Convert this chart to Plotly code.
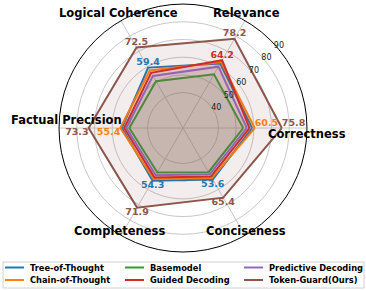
import plotly.graph_objects as go

categories = ["Correctness", "Relevance", "Logical Coherence", "Factual Precision", "Completeness", "Conciseness"]

tree_of_thought = [59.0, 62.0, 59.4, 54.5, 54.3, 53.6]
chain_of_thought = [60.5, 63.0, 57.5, 55.4, 53.2, 52.6]
basemodel = [54.0, 55.0, 50.5, 50.3, 49.0, 48.8]
guided_decoding = [57.5, 64.2, 56.0, 53.2, 52.2, 51.6]
predictive_decoding = [56.0, 60.0, 54.0, 52.0, 50.8, 50.2]
token_guard = [75.8, 78.2, 72.5, 73.3, 71.9, 65.4]

radial_ticks = [40, 50, 60, 70, 80, 90]

series = [
    ("Tree-of-Thought", tree_of_thought, "#1f77b4", "rgba(31,119,180,0.1)"),
    ("Chain-of-Thought", chain_of_thought, "#ff7f0e", "rgba(255,127,14,0.1)"),
    ("Basemodel", basemodel, "#2ca02c", "rgba(44,160,44,0.1)"),
    ("Guided Decoding", guided_decoding, "#d62728", "rgba(214,39,40,0.1)"),
    ("Predictive Decoding", predictive_decoding, "#9467bd", "rgba(148,103,189,0.1)"),
    ("Token-Guard(Ours)", token_guard, "#8c564b", "rgba(140,86,75,0.1)"),
]

FONT = "DejaVu Sans"
W, H = 366, 290
fig = go.Figure()

for name, vals, color, fill in series:
    fig.add_trace(go.Scatterpolar(
        r=vals + vals[:1], theta=categories + categories[:1],
        mode="lines", name=name, line=dict(color=color, width=2),
        fill="toself", fillcolor=fill, hoverinfo="skip", showlegend=False,
    ))

tg_pos = ["top right", "top center", "top center", "bottom left", "bottom center", "bottom center"]
fig.add_trace(go.Scatterpolar(
    r=token_guard, theta=categories, mode="text",
    text=[f"{v:.1f}" for v in token_guard], textposition=tg_pos,
    textfont=dict(family=FONT, size=9.5, color="#8c564b", weight="bold"),
    showlegend=False, hoverinfo="skip",
))

best_vals = [chain_of_thought[0], guided_decoding[1], tree_of_thought[2],
             chain_of_thought[3], tree_of_thought[4], tree_of_thought[5]]
best_cols = ["#ff7f0e", "#d62728", "#1f77b4", "#ff7f0e", "#1f77b4", "#1f77b4"]
fig.add_trace(go.Scatterpolar(
    r=best_vals, theta=categories, mode="text",
    text=[f"{v:.1f}" for v in best_vals], textposition=tg_pos,
    textfont=dict(family=FONT, size=9.5, color=best_cols, weight="bold"),
    showlegend=False, hoverinfo="skip",
))

label_pos = {
    "Correctness": (307, 134),
    "Relevance": (246, 13),
    "Logical Coherence": (119, 13),
    "Factual Precision": (66, 120),
    "Completeness": (120, 231),
    "Conciseness": (246, 231),
}
annotations = []
shapes = []
for c in categories:
    px, py = label_pos[c]
    annotations.append(dict(
        x=px / W, y=1 - py / H, xref="paper", yref="paper", text=c,
        showarrow=False, xanchor="center", yanchor="middle",
        font=dict(family=FONT, size=11.5, color="black", weight="bold"),
    ))

# legend drawn as shapes + text (3 columns x 2 rows, column-major order)
shapes.append(dict(type="rect", xref="paper", yref="paper",
                   x0=3 / W, x1=364 / W, y0=1 - 288 / H, y1=1 - 262 / H,
                   line=dict(color="#d0d0d0", width=1), fillcolor="white", layer="above"))
col_x = [4, 124, 243]
row_y = [267.5, 280]
for i, (name, vals, color, fill) in enumerate(series):
    col, row = i // 2, i % 2
    x0 = col_x[col] + 1
    y = row_y[row]
    shapes.append(dict(type="line", xref="paper", yref="paper",
                       x0=x0 / W, x1=(x0 + 19) / W, y0=1 - y / H, y1=1 - y / H,
                       line=dict(color=color, width=2), layer="above"))
    annotations.append(dict(
        x=(x0 + 23) / W, y=1 - y / H, xref="paper", yref="paper", text=name,
        showarrow=False, xanchor="left", yanchor="middle",
        font=dict(family=FONT, size=8.3, color="black", weight="bold"),
    ))

fig.update_layout(
    width=W, height=H,
    margin=dict(l=0, r=0, t=0, b=0),
    paper_bgcolor="white",
    font=dict(family=FONT),
    showlegend=False,
    polar=dict(
        domain=dict(x=[0, 1], y=[0.131, 0.986]),
        bgcolor="white",
        angularaxis=dict(
            rotation=0, direction="counterclockwise",
            showticklabels=False, ticks="",
            showline=True, linecolor="black", linewidth=1,
            gridcolor="#c8c8c8", gridwidth=1,
        ),
        radialaxis=dict(
            range=[20, 90], tickvals=radial_ticks, angle=45, tickangle=45,
            showline=False, ticks="",
            gridcolor="#c8c8c8", gridwidth=1,
            tickfont=dict(family=FONT, size=8, color="#222"),
        ),
    ),
    annotations=annotations,
    shapes=shapes,
)

fig.write_html("out.html", config={"displayModeBar": False},
               post_script="document.body.style.margin='0';document.body.style.padding='0';")
